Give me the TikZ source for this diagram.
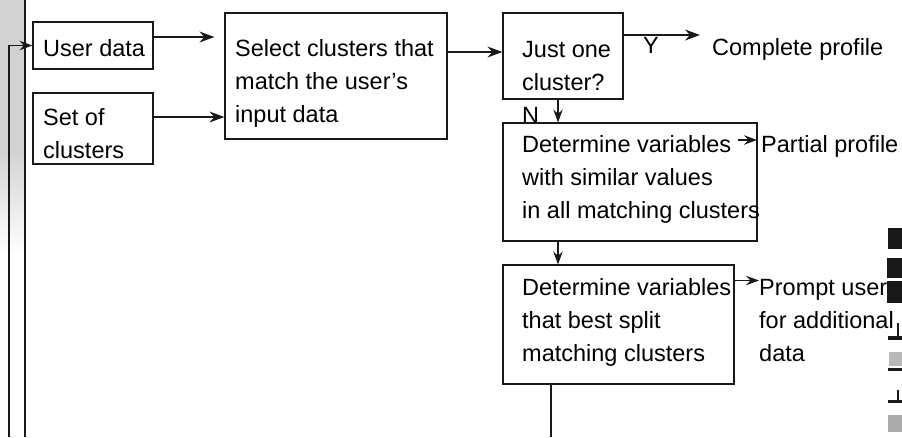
\documentclass[tikz,border=0pt]{standalone}
\usepackage{fontspec}
\setmainfont{Liberation Sans}
\usetikzlibrary{arrows.meta}
% several lines of text, anchored on the baseline of the first one
\newcommand\txtlines[1]{\begin{tabular}[t]{@{}l@{}}#1\end{tabular}}

\begin{document}
\begin{tikzpicture}[x=1pt,y=-1pt,
  box/.style={draw=black!90, line width=1.2pt, inner sep=0pt, rectangle},
  txt/.style={inner sep=0pt, anchor=base west, font=\fontsize{23.5}{33}\selectfont},
  arr/.style={draw=black!90, line width=1.1pt, -{Stealth[length=15pt,width=11pt,inset=5pt]}},
  sarr/.style={arr, -{Stealth[length=13pt,width=9.5pt,inset=4.5pt]}},
  ln/.style={draw=black!90, line width=1.1pt},
  edgemark/.style={fill=black!90},
]
\useasboundingbox (0,0) rectangle (902,437);

% margin strip and column rule on the left
\fill[gray!35] (0,0) rectangle (25,150);
\shade[top color=gray!35, bottom color=white] (0,150) rectangle (25,255);
\draw[ln, line width=1.3pt] (25,0) -- (25,437);

% boxes
\node[box, minimum width=120pt, minimum height=47pt]  (ud)  at (93,45.5)   {};
\node[box, minimum width=120pt, minimum height=71pt]  (sc)  at (93,128.5)  {};
\node[box, minimum width=222pt, minimum height=126pt] (sel) at (336,76)    {};
\node[box, minimum width=120pt, minimum height=86pt]  (j1)  at (563,56)    {};
\node[box, minimum width=254pt, minimum height=118pt] (d1)  at (630,182)   {};
\node[box, minimum width=231pt, minimum height=119pt] (d2)  at (618.5,324.5) {};

% box texts
\node[txt] (udt)  at (43,56)   {User data};
\node[txt] (sct)  at (43,125)  {\txtlines{Set of\\clusters}};
\node[txt] (selt) at (235,56)  {\txtlines{Select clusters that\\match the user’s\\input data}};
\node[txt] (j1t)  at (522,57)  {\txtlines{Just one\\cluster?}};
\node[txt] (d1t)  at (522,152) {\txtlines{Determine variables\\with similar values\\in all matching clusters}};
\node[txt] (d2t)  at (522,295) {\txtlines{Determine variables\\that best split\\matching clusters}};

% outcomes
\node[txt] (cp) at (712,55)  {Complete profile};
\node[txt] (pp) at (761,152) {Partial profile};
\node[txt] (pu) at (759,295) {\txtlines{Prompt user\\for additional\\data}};

% branch labels
\node[txt] (yl) at (643,53)  {Y};
\node[txt] (nl) at (522,123) {N};

% connectors
\draw[arr, shorten >=10pt] ([yshift=8.5pt]ud.east) coordinate (a1) -- (a1 -| sel.west);
\draw[arr] ([yshift=11.5pt]sc.east) coordinate (a2) -- (a2 -| sel.west);
\draw[arr] ([yshift=24pt]sel.east) coordinate (a3) -- (a3 -| j1.west);
\draw[arr, shorten >=12pt] ([yshift=21pt]j1.east) coordinate (a4) -- (a4 -| cp.west);
\draw[sarr] ([xshift=-5pt]j1.south) coordinate (a5) -- (a5 |- d1.north);
\draw[sarr] ([xshift=-72pt]d1.south) coordinate (a6) -- (a6 |- d2.north);
\draw[sarr, shorten >=4pt] ([xshift=-20pt,yshift=42pt]d1.east) coordinate (a7) -- (a7 -| pp.west);
\draw[sarr] ([yshift=44pt]d2.east) coordinate (a8) -- (a8 -| pu.west);

% loop back to the user data
\coordinate (lb) at (9,437);
\coordinate (db) at (551,437);
\draw[ln] ([xshift=-67.5pt]d2.south) -- (db);
\draw[sarr] (lb) |- (ud.west);

% marks along the right edge
\fill[edgemark] (888,228) rectangle (902,249);
\fill[edgemark] (887,258) rectangle (902,278);
\fill[edgemark] (887,281) rectangle (902,303);
\fill[edgemark] (897,323) rectangle (899,337);
\fill[edgemark] (888,336) rectangle (902,340);
\fill[gray!55]  (889,352) rectangle (902,366);
\fill[edgemark] (888,368) rectangle (902,371);
\fill[edgemark] (897,390) rectangle (899,400);
\fill[edgemark] (888,400) rectangle (902,403);
\fill[gray!65]  (888,415) rectangle (902,432);
\end{tikzpicture}
\end{document}
